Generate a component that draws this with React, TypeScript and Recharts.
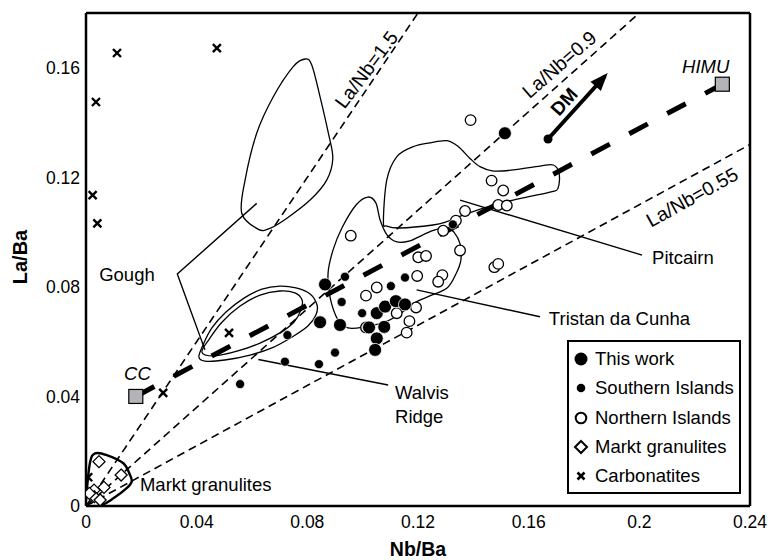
import React from 'react';
import { ScatterChart, Scatter, XAxis, YAxis, ReferenceDot } from 'recharts';

const FONT = '"Liberation Sans", Arial, Helvetica, sans-serif';

// samples as [Nb/Ba, La/Ba]
const thisWork = [
  [0.0864, 0.0809], [0.0846, 0.0671], [0.0918, 0.0661], [0.1051, 0.0704], [0.1081, 0.0728],
  [0.112, 0.0748], [0.1153, 0.0736], [0.1023, 0.0652], [0.1078, 0.0654], [0.1051, 0.0612],
  [0.1045, 0.057], [0.1514, 0.1361],
];
const southernIslands = [
  [0.0936, 0.0837], [0.0924, 0.0745], [0.0998, 0.0704], [0.1102, 0.0803], [0.1153, 0.0834],
  [0.09, 0.056], [0.0842, 0.0518], [0.0728, 0.0624], [0.0719, 0.0527], [0.1326, 0.1028],
  [0.0557, 0.0445],
];
const northernIslands = [
  [0.0957, 0.0987], [0.1291, 0.1005], [0.1352, 0.0933], [0.1201, 0.0908], [0.1229, 0.0913],
  [0.1197, 0.084], [0.1288, 0.0843], [0.1273, 0.0819], [0.1051, 0.0798], [0.1012, 0.0768],
  [0.1193, 0.0725], [0.1123, 0.0704], [0.1169, 0.0675], [0.1159, 0.0633], [0.1012, 0.0652],
  [0.1466, 0.1188], [0.1508, 0.1152], [0.149, 0.1099], [0.1521, 0.1097], [0.137, 0.1077],
  [0.1337, 0.1042], [0.1476, 0.0872], [0.149, 0.0884], [0.139, 0.1409],
];
const marktGranulites = [
  [0.0047, 0.0162], [0.0127, 0.0113], [0.0065, 0.0068], [0.0029, 0.0058],
  [0.003, 0.0034], [0.0051, 0.0022], [0.0012, 0.0046],
];
const carbonatites = [
  [0.0112, 0.1654], [0.0473, 0.1672], [0.0036, 0.1475], [0.0024, 0.1135], [0.0041, 0.1032],
  [0.0517, 0.0632], [0.0279, 0.0413], [0.0008, 0.0105],
];
const endMembers = [[0.018, 0.04], [0.23, 0.154]]; // CC, HIMU
const dmTrend = [[0.167, 0.134], [0.1876, 0.157]];
const laNbRatios = [1.5, 0.9, 0.55];

// field outlines
const goughField = [
  [0.0623, 0.101], [0.0563, 0.1069], [0.0575, 0.119], [0.0617, 0.1361], [0.0677, 0.1494],
  [0.0749, 0.1604], [0.0792, 0.1632], [0.0816, 0.161], [0.0846, 0.1494], [0.0876, 0.1361],
  [0.0892, 0.1269], [0.087, 0.119], [0.081, 0.1117], [0.0725, 0.105], [0.0665, 0.1014],
];
const walvisOuter = [
  [0.0408, 0.0544], [0.0423, 0.0588], [0.0455, 0.065], [0.0506, 0.0708], [0.0571, 0.0759],
  [0.0636, 0.0792], [0.0701, 0.0803], [0.0759, 0.0796], [0.081, 0.0774], [0.0835, 0.0734],
  [0.0831, 0.0697], [0.0802, 0.0657], [0.0745, 0.0617], [0.0672, 0.0577], [0.0593, 0.0551],
  [0.0502, 0.0533], [0.043, 0.0529],
];
const walvisInner = [
  [0.0419, 0.0562], [0.0448, 0.0613], [0.0492, 0.0672], [0.0557, 0.073], [0.0629, 0.077],
  [0.0701, 0.0785], [0.0755, 0.0778], [0.0781, 0.0752], [0.0777, 0.0716], [0.0752, 0.0672],
  [0.0701, 0.0632], [0.0629, 0.0595], [0.0549, 0.0566], [0.0466, 0.0548],
];
const tristanField = [
  [0.0911, 0.0679], [0.0882, 0.0763], [0.0875, 0.0851], [0.0893, 0.0935], [0.0925, 0.1015],
  [0.0976, 0.1099], [0.1019, 0.1128], [0.1048, 0.1106], [0.1063, 0.1044], [0.1088, 0.099],
  [0.1124, 0.0964], [0.1171, 0.0968], [0.1218, 0.099], [0.1261, 0.1008], [0.1305, 0.1015],
  [0.133, 0.1], [0.1352, 0.0957], [0.1355, 0.0898], [0.1337, 0.0847], [0.1305, 0.0796],
  [0.1243, 0.0767], [0.1186, 0.0741], [0.1135, 0.0701], [0.1081, 0.0672], [0.1008, 0.0654],
  [0.0947, 0.065],
];
const pitcairnField = [
  [0.1075, 0.1038], [0.1087, 0.119], [0.1123, 0.1275], [0.1183, 0.1312], [0.1243, 0.1326],
  [0.1304, 0.1334], [0.1346, 0.1312], [0.1388, 0.1269], [0.1424, 0.1239], [0.1472, 0.1223],
  [0.1544, 0.1227], [0.1641, 0.1241], [0.1689, 0.1245], [0.171, 0.1215], [0.1706, 0.116],
  [0.1677, 0.1146], [0.1544, 0.1117], [0.146, 0.1095], [0.1363, 0.1062], [0.1304, 0.1038],
  [0.1254, 0.1026], [0.1135, 0.1015], [0.1087, 0.1022],
];
const marktField = [
  [0, 0.0022], [0.0014, 0.0156], [0.0033, 0.0192], [0.0075, 0.0186], [0.0135, 0.0156],
  [0.0159, 0.0113], [0.0165, 0.0089], [0.0147, 0.0065], [0.0099, 0.0028], [0.0051, 0.0001],
  [0, 0],
];

// leader lines from labels to fields
const goughLeader = [[0.0617, 0.1105], [0.033, 0.0847], [0.043, 0.057]];
const walvisLeader = [[0.0623, 0.0535], [0.1092, 0.0442]];
const tristanLeader = [[0.1195, 0.0789], [0.1641, 0.0691]];
const pitcairnLeader = [[0.1352, 0.1117], [0.201, 0.0916]];

const xMajor = [0, 0.04, 0.08, 0.12, 0.16, 0.2, 0.24];
const xMinor = [0, 0.01, 0.02, 0.03, 0.04, 0.05, 0.06, 0.07, 0.08, 0.09, 0.1, 0.11, 0.12,
  0.13, 0.14, 0.15, 0.16, 0.17, 0.18, 0.19, 0.2, 0.21, 0.22, 0.23, 0.24];
const yMajor = [0, 0.04, 0.08, 0.12, 0.16];
const yMinor = [0, 0.01, 0.02, 0.03, 0.04, 0.05, 0.06, 0.07, 0.08, 0.09, 0.1, 0.11, 0.12,
  0.13, 0.14, 0.15, 0.16, 0.17, 0.18];

const legendItems = ['This work', 'Southern Islands', 'Northern Islands', 'Markt granulites', 'Carbonatites'];

const pts = (a: number[][]) => a.map(([x, y]) => ({ x, y }));

const ratioLine = (r: number) => {
  const x = Math.min(0.24, 0.18 / r);
  return [{ x: 0, y: 0 }, { x, y: r * x }];
};

// closed catmull-rom curve for the field outlines
const closedSpline = (context: any) => {
  let p: number[][] = [];
  return {
    areaStart() {},
    areaEnd() {},
    lineStart() { p = []; },
    point(x: number, y: number) { p.push([+x, +y]); },
    lineEnd() {
      const n = p.length;
      if (n < 3) return;
      context.moveTo(p[0][0], p[0][1]);
      for (let i = 0; i < n; i++) {
        const a = p[(i + n - 1) % n], b = p[i], c = p[(i + 1) % n], d = p[(i + 2) % n];
        context.bezierCurveTo(
          b[0] + (c[0] - a[0]) / 6, b[1] + (c[1] - a[1]) / 6,
          c[0] - (d[0] - b[0]) / 6, c[1] - (d[1] - b[1]) / 6,
          c[0], c[1]
        );
      }
      context.closePath();
    },
  };
};

const noDot = () => <g />;

const bigDot = (p: any) => <circle cx={p.cx} cy={p.cy} r={6.5} fill="#000" stroke="#fff" strokeWidth={0.8} />;
const smallDot = (p: any) => <circle cx={p.cx} cy={p.cy} r={4.5} fill="#000" stroke="#fff" strokeWidth={0.6} />;
const openDot = (p: any) => <circle cx={p.cx} cy={p.cy} r={5.3} fill="#fff" stroke="#000" strokeWidth={1.3} />;
const diamond = (p: any) => (
  <polygon
    points={`${p.cx},${p.cy - 6} ${p.cx + 6},${p.cy} ${p.cx},${p.cy + 6} ${p.cx - 6},${p.cy}`}
    fill="#fff" stroke="#000" strokeWidth={1.3}
  />
);
const cross = (p: any) => (
  <path d={`M${p.cx - 4},${p.cy - 4}L${p.cx + 4},${p.cy + 4}M${p.cx - 4},${p.cy + 4}L${p.cx + 4},${p.cy - 4}`}
    stroke="#000" strokeWidth={2.4} />
);
const square = (p: any) => (
  <rect x={p.cx - 7} y={p.cy - 7} width={14} height={14} fill="#b4b4b8" stroke="#000" strokeWidth={1.2} />
);
const arrowEnds = (p: any) =>
  p.payload && p.payload.x === dmTrend[1][0] ? (
    <polygon points="4,0 -14,-7 -14,7" fill="#000" transform={`translate(${p.cx} ${p.cy}) rotate(-48)`} />
  ) : (
    <circle cx={p.cx} cy={p.cy} r={4.5} fill="#000" />
  );

const note = (text: string, opts: { anchor?: string; size?: number; angle?: number; italic?: boolean; bold?: boolean } = {}) =>
  (p: any) => (
    <text
      x={p.cx}
      y={p.cy}
      textAnchor={opts.anchor || 'start'}
      dominantBaseline="central"
      fontFamily={FONT}
      fontSize={opts.size || 18.5}
      fontStyle={opts.italic ? 'italic' : 'normal'}
      fontWeight={opts.bold ? 'bold' : 'normal'}
      fill="#000"
      transform={opts.angle ? `rotate(${opts.angle} ${p.cx} ${p.cy})` : undefined}
    >
      {text}
    </text>
  );

const edge = { stroke: '#000', strokeWidth: 2.5 };
const tickStroke = { stroke: '#000', strokeWidth: 1.5 };

// mirrored axes draw the frame with inward ticks
const frameX = (id: string, orientation: 'top' | 'bottom', ticks: number[], size: number, line: boolean) => (
  <XAxis key={id} xAxisId={id} type="number" domain={[0, 0.24]} ticks={ticks} interval={0}
    orientation={orientation} mirror height={1} tick={false} tickSize={size}
    tickLine={tickStroke} axisLine={line ? edge : false} allowDataOverflow />
);
const frameY = (id: string, orientation: 'left' | 'right', ticks: number[], size: number, line: boolean) => (
  <YAxis key={id} yAxisId={id} type="number" domain={[0, 0.18]} ticks={ticks} interval={0}
    orientation={orientation} mirror width={1} tick={false} tickSize={size}
    tickLine={tickStroke} axisLine={line ? edge : false} allowDataOverflow />
);

function LegendSymbol({ i }: { i: number }) {
  if (i === 0) return <circle cx={12} cy={14} r={6.5} fill="#000" />;
  if (i === 1) return <circle cx={12} cy={14} r={4.3} fill="#000" />;
  if (i === 2) return <circle cx={12} cy={14} r={5.3} fill="#fff" stroke="#000" strokeWidth={2} />;
  if (i === 3) return <polygon points="12,8 18,14 12,20 6,14" fill="#fff" stroke="#000" strokeWidth={2} />;
  return <path d="M8.5,10.5L15.5,17.5M8.5,17.5L15.5,10.5" stroke="#000" strokeWidth={2.6} />;
}

export default function App() {
  return (
    <div style={{ position: 'absolute', left: 0, top: 0, width: 769, height: 560, background: '#fff' }}>
      <ScatterChart width={769} height={560} margin={{ top: 13, right: 19, bottom: 24, left: 16 }}>
        <XAxis
          dataKey="x" type="number" domain={[0, 0.24]} ticks={xMajor} interval={0} height={30}
          tickSize={0} tickMargin={10} axisLine={false} tickLine={false} allowDataOverflow
          tick={{ fontSize: 17.5, fill: '#000', fontFamily: FONT }}
          label={() => (
            <text x={418} y={556} textAnchor="middle" fontFamily={FONT} fontSize={19.5} fontWeight="bold" fill="#000">Nb/Ba</text>
          )}
        />
        <YAxis
          dataKey="y" type="number" domain={[0, 0.18]} ticks={yMajor} interval={0} width={70}
          tickSize={0} tickMargin={6} axisLine={false} tickLine={false} allowDataOverflow
          tick={{ fontSize: 17.5, fill: '#000', fontFamily: FONT }}
          label={() => (
            <text x={26.5} y={257} transform="rotate(-90 26.5 257)" textAnchor="middle" fontFamily={FONT} fontSize={20} fontWeight="bold" fill="#000">La/Ba</text>
          )}
        />
        {frameX('bMaj', 'bottom', xMajor, 9, true)}
        {frameX('bMin', 'bottom', xMinor, 5, false)}
        {frameX('tMaj', 'top', xMajor, 9, true)}
        {frameX('tMin', 'top', xMinor, 5, false)}
        {frameY('lMaj', 'left', yMajor, 9, true)}
        {frameY('lMin', 'left', yMinor, 5, false)}
        {frameY('rMaj', 'right', yMajor, 9, true)}
        {frameY('rMin', 'right', yMinor, 5, false)}

        {laNbRatios.map((r) => (
          <Scatter key={r} data={ratioLine(r)} shape={noDot} isAnimationActive={false}
            line={{ stroke: '#000', strokeWidth: 1.6, strokeDasharray: '8 5' }} />
        ))}

        {[goughField, walvisOuter, walvisInner, tristanField, pitcairnField].map((f, i) => (
          <Scatter key={'f' + i} data={pts(f)} shape={noDot} isAnimationActive={false}
            line={{ stroke: '#000', strokeWidth: 1.3, fill: 'none' }} lineJointType={closedSpline as any} />
        ))}
        <Scatter data={pts(marktField)} shape={noDot} isAnimationActive={false}
          line={{ stroke: '#000', strokeWidth: 2.4, fill: 'none' }} lineJointType={closedSpline as any} />

        {[goughLeader, walvisLeader, tristanLeader, pitcairnLeader].map((l, i) => (
          <Scatter key={'l' + i} data={pts(l)} shape={noDot} isAnimationActive={false}
            line={{ stroke: '#000', strokeWidth: 1.4 }} />
        ))}

        <Scatter data={pts(endMembers)} shape={noDot} isAnimationActive={false}
          line={{ stroke: '#000', strokeWidth: 5, strokeDasharray: '21 22' }} />
        <Scatter data={pts(endMembers)} shape={square} isAnimationActive={false} />
        <Scatter data={pts(dmTrend)} shape={arrowEnds} isAnimationActive={false}
          line={{ stroke: '#000', strokeWidth: 4 }} />

        <Scatter data={pts(marktGranulites)} shape={diamond} isAnimationActive={false} />
        <Scatter data={pts(carbonatites)} shape={cross} isAnimationActive={false} />
        <Scatter data={pts(northernIslands)} shape={openDot} isAnimationActive={false} />
        <Scatter data={pts(southernIslands)} shape={smallDot} isAnimationActive={false} />
        <Scatter data={pts(thisWork)} shape={bigDot} isAnimationActive={false} />

        <ReferenceDot x={0.1013} y={0.1594} r={0} shape={note('La/Nb=1.5', { anchor: 'middle', size: 19.5, angle: -53 })} />
        <ReferenceDot x={0.171} y={0.1613} r={0} shape={note('La/Nb=0.9', { anchor: 'middle', size: 19.5, angle: -41 })} />
        <ReferenceDot x={0.219} y={0.1128} r={0} shape={note('La/Nb=0.55', { anchor: 'middle', size: 19.5, angle: -29 })} />
        <ReferenceDot x={0.1728} y={0.1476} r={0} shape={note('DM', { anchor: 'middle', size: 19, angle: -48, bold: true })} />
        <ReferenceDot x={0.0186} y={0.0482} r={0} shape={note('CC', { anchor: 'middle', italic: true })} />
        <ReferenceDot x={0.224} y={0.1604} r={0} shape={note('HIMU', { anchor: 'middle', italic: true })} />
        <ReferenceDot x={0.0148} y={0.0847} r={0} shape={note('Gough', { anchor: 'middle' })} />
        <ReferenceDot x={0.0195} y={0.0077} r={0} shape={note('Markt granulites')} />
        <ReferenceDot x={0.1117} y={0.0416} r={0} shape={note('Walvis')} />
        <ReferenceDot x={0.1117} y={0.0325} r={0} shape={note('Ridge')} />
        <ReferenceDot x={0.1673} y={0.0686} r={0} shape={note('Tristan da Cunha')} />
        <ReferenceDot x={0.2046} y={0.0909} r={0} shape={note('Pitcairn')} />
      </ScatterChart>

      <div
        style={{
          position: 'absolute', left: 567, top: 340, width: 174, height: 154, boxSizing: 'border-box',
          border: '2px solid #000', background: '#fff', fontFamily: FONT, fontSize: 18.5, color: '#000',
        }}
      >
        {legendItems.map((name, i) => (
          <div key={name} style={{ position: 'absolute', left: 0, top: 3 + i * 29.3, height: 28, display: 'flex', alignItems: 'center', whiteSpace: 'nowrap' }}>
            <svg width={26} height={28}><LegendSymbol i={i} /></svg>
            <span>{name}</span>
          </div>
        ))}
      </div>
    </div>
  );
}
